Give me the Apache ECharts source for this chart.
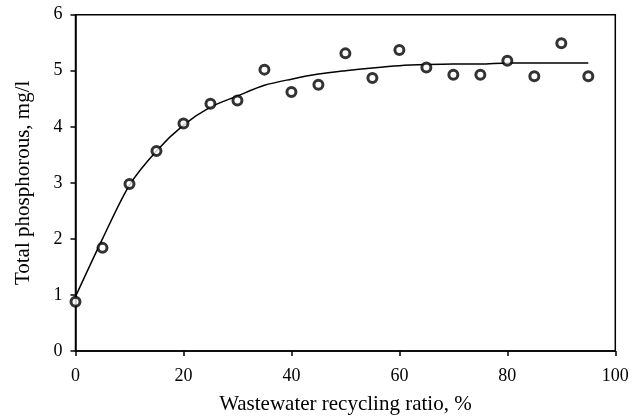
<!DOCTYPE html>
<html><head><meta charset="utf-8">
<script src="https://cdn.jsdelivr.net/npm/echarts@6/dist/echarts.min.js"></script>
<style>html,body{margin:0;padding:0;background:#fff}#c{width:642px;height:420px}</style>
</head><body><div id="c"></div>
<script>
var ratio = [0,5,10,15,20,25,30,35,40,45,50,55,60,65,70,75,80,85,90,95];
var measured = [0.88,1.84,2.98,3.57,4.06,4.41,4.47,5.02,4.62,4.75,5.31,4.87,5.37,5.06,4.93,4.93,5.18,4.90,5.49,4.90];
var fitted = [0.97,2.0,2.96,3.57,4.03,4.35,4.55,4.74,4.85,4.94,5.0,5.05,5.09,5.11,5.12,5.12,5.14,5.14,5.14,5.14];
var xTicks = [0,20,40,60,80,100];
var yTicks = [0,1,2,3,4,5,6];
var font = 'Liberation Serif';
var chart = echarts.init(document.getElementById('c'));
chart.setOption({
  animation:false,
  backgroundColor:'#fff',
  grid:{left:75.5,right:26.7,top:14.7,bottom:67.3,show:true,borderColor:'#000',borderWidth:1.5,backgroundColor:'transparent'},
  xAxis:{type:'value',min:xTicks[0],max:xTicks[xTicks.length-1],interval:20,
    name:'Wastewater recycling ratio, %',nameLocation:'middle',nameGap:43,
    nameTextStyle:{fontFamily:font,fontSize:21,color:'#000'},
    axisLine:{lineStyle:{color:'#000',width:1.5}},
    axisTick:{show:true,length:5,lineStyle:{color:'#000',width:1.5}},
    axisLabel:{fontFamily:font,fontSize:18,color:'#000',margin:16},
    splitLine:{show:false}},
  yAxis:{type:'value',min:yTicks[0],max:yTicks[yTicks.length-1],interval:1,
    name:'Total phosphorous, mg/l',nameLocation:'middle',nameGap:42,
    nameTextStyle:{fontFamily:font,fontSize:21,color:'#000'},
    axisLine:{show:true,lineStyle:{color:'#000',width:1.5}},
    axisTick:{show:true,length:5,lineStyle:{color:'#000',width:1.5}},
    axisLabel:{fontFamily:font,fontSize:18,color:'#000',margin:13},
    splitLine:{show:false}},
  series:[
    {type:'line',data:ratio.map(function(x,i){return [x,fitted[i]];}),smooth:0.3,showSymbol:false,
     lineStyle:{color:'#000',width:1.5},z:2},
    {type:'scatter',data:ratio.map(function(x,i){return [x,measured[i]];}),symbol:'circle',symbolSize:9,
     itemStyle:{color:'#fff',borderColor:'#000',borderWidth:3},z:3}
  ]
});
</script></body></html>
